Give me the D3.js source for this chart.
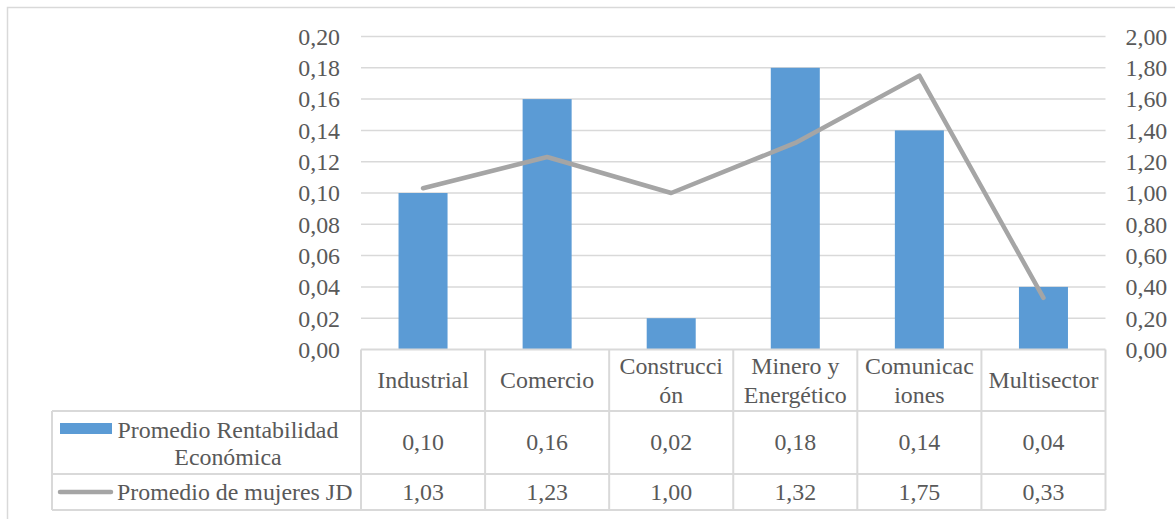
<!DOCTYPE html>
<html>
<head>
<meta charset="utf-8">
<script src="https://cdn.jsdelivr.net/npm/d3@7"></script>
<style>
  html, body { margin: 0; padding: 0; background: #fff; }
  svg { display: block; }
</style>
</head>
<body>
<svg id="chart" width="1175" height="519"></svg>
<script>
// Sectors (header lines as wrapped in the data table)
const categories = ["Industrial", "Comercio", "Construcción", "Minero y Energético", "Comunicaciones", "Multisector"];
const categoryLines = [["Industrial"], ["Comercio"], ["Construcci", "ón"], ["Minero y", "Energético"], ["Comunicac", "iones"], ["Multisector"]];
const rentabilidad = [0.10, 0.16, 0.02, 0.18, 0.14, 0.04];
const mujeresJD = [1.03, 1.23, 1.00, 1.32, 1.75, 0.33];
const leftTicks = [0, 0.02, 0.04, 0.06, 0.08, 0.10, 0.12, 0.14, 0.16, 0.18, 0.20];
const rightTicks = [0, 0.2, 0.4, 0.6, 0.8, 1.0, 1.2, 1.4, 1.6, 1.8, 2.0];
const seriesNames = [["Promedio Rentabilidad", "Económica"], ["Promedio de mujeres JD"]];

// choose an installed serif face (one that differs from both generic sans and mono)
const ctx = document.createElement("canvas").getContext("2d");
const SAMPLE = "Promedio Rentabilidad";
function widthOf(font) { ctx.font = font; return ctx.measureText(SAMPLE).width; }
function pickFont(cands) {
  const mono = widthOf("24px monospace");
  const sans = widthOf("24px sans-serif");
  for (const f of cands) {
    const w = widthOf(`24px "${f}", monospace`);
    if (Math.abs(w - mono) > 0.5 && Math.abs(w - sans) > 0.5) return `"${f}"`;
  }
  return "serif";
}
const FONT = pickFont(["Liberation Serif", "Tinos", "Times New Roman", "Noto Serif", "DejaVu Serif"]);
// keep the legend text about 221px wide at the chosen face
const FS = Math.min(24, 24 * 221 / widthOf(`24px ${FONT}`));

const svg = d3.select("#chart");
const fmt = v => d3.format(".2f")(v).replace(".", ",");
const TXT = "#595959";
const GRID = "#d9d9d9";
const BAR = "#5b9bd5";
const LINE = "#a5a5a5";

function label(sel) {
  return sel.attr("font-family", FONT).attr("font-size", FS).attr("fill", TXT);
}

// chart frame
svg.append("rect").attr("x", 7.5).attr("y", 7.5).attr("width", 1200).attr("height", 600)
  .attr("fill", "none").attr("stroke", GRID).attr("stroke-width", 1.5);

const plot = { left: 361, right: 1105.5, top: 36.5, bottom: 349.5 };

const x = d3.scaleBand().domain(categories).range([plot.left, plot.right]).paddingInner(0).paddingOuter(0);
const yL = d3.scaleLinear().domain([0, 0.2]).range([plot.bottom, plot.top]);
const yR = d3.scaleLinear().domain([0, 2]).range([plot.bottom, plot.top]);

// gridlines
svg.append("g").selectAll("line").data(leftTicks.slice(1)).join("line")
  .attr("x1", plot.left).attr("x2", plot.right)
  .attr("y1", d => yL(d)).attr("y2", d => yL(d))
  .attr("stroke", GRID).attr("stroke-width", 1.5);

// left axis
const leftAxis = d3.axisLeft(yL).tickValues(leftTicks).tickFormat(fmt).tickSize(0).tickPadding(0);
const gL = svg.append("g").attr("transform", `translate(${plot.left - 21},0)`).call(leftAxis);
gL.select(".domain").remove();
label(gL.selectAll("text")).attr("dy", "0.33em");

// right axis
const rightAxis = d3.axisRight(yR).tickValues(rightTicks).tickFormat(fmt).tickSize(0).tickPadding(0);
const gR = svg.append("g").attr("transform", `translate(${plot.right + 20},0)`).call(rightAxis);
gR.select(".domain").remove();
label(gR.selectAll("text")).attr("dy", "0.33em");

// bars
const bw = x.bandwidth() * 0.395;
svg.append("g").selectAll("rect").data(rentabilidad).join("rect")
  .attr("x", (d, i) => x(categories[i]) + x.bandwidth() / 2 - bw / 2)
  .attr("width", bw)
  .attr("y", d => yL(d))
  .attr("height", d => plot.bottom - yL(d))
  .attr("fill", BAR);

// line series on the secondary axis
const line = d3.line()
  .x((d, i) => x(categories[i]) + x.bandwidth() / 2)
  .y(d => yR(d));
svg.append("path").datum(mujeresJD).attr("d", line)
  .attr("fill", "none").attr("stroke", LINE).attr("stroke-width", 4.5)
  .attr("stroke-linejoin", "round").attr("stroke-linecap", "round");

// data table
const rows = { h0: plot.bottom, h1: 411, h2: 474, h3: 510 };
const legendLeft = 52;
const table = svg.append("g").attr("stroke", GRID).attr("stroke-width", 2);
table.append("line").attr("x1", plot.left).attr("x2", plot.right).attr("y1", rows.h0).attr("y2", rows.h0);
[rows.h1, rows.h2, rows.h3].forEach(yy => {
  table.append("line").attr("x1", legendLeft).attr("x2", plot.right).attr("y1", yy).attr("y2", yy);
});
table.append("line").attr("x1", legendLeft).attr("x2", legendLeft).attr("y1", rows.h1).attr("y2", rows.h3);
categories.forEach(c => {
  table.append("line").attr("x1", x(c)).attr("x2", x(c)).attr("y1", rows.h0).attr("y2", rows.h3);
});
table.append("line").attr("x1", plot.right).attr("x2", plot.right).attr("y1", rows.h0).attr("y2", rows.h3);

// header labels
const lh = 29;
categoryLines.forEach((lines, i) => {
  const cx = x(categories[i]) + x.bandwidth() / 2;
  const cy = (rows.h0 + rows.h1) / 2;
  lines.forEach((t, j) => {
    label(svg.append("text")).attr("x", cx).attr("y", cy + (j - (lines.length - 1) / 2) * lh)
      .attr("dy", "0.33em").attr("text-anchor", "middle").text(t);
  });
});

// value rows
[rentabilidad, mujeresJD].forEach((vals, r) => {
  const cy = r === 0 ? (rows.h1 + rows.h2) / 2 : (rows.h2 + rows.h3) / 2;
  vals.forEach((v, i) => {
    label(svg.append("text")).attr("x", x(categories[i]) + x.bandwidth() / 2).attr("y", cy)
      .attr("dy", "0.33em").attr("text-anchor", "middle").text(fmt(v));
  });
});

// legend cells
const textCx = 228;
seriesNames[0].forEach((t, j) => {
  label(svg.append("text")).attr("x", textCx).attr("y", 430 + j * 27.5).attr("dy", "0.33em")
    .attr("text-anchor", "middle").text(t);
});
svg.append("rect").attr("x", 60).attr("y", 423).attr("width", 52).attr("height", 11).attr("fill", BAR);

label(svg.append("text")).attr("x", 117).attr("y", (rows.h2 + rows.h3) / 2).attr("dy", "0.33em")
  .attr("text-anchor", "start").text(seriesNames[1][0]);
svg.append("line").attr("x1", 60).attr("x2", 111).attr("y1", 492).attr("y2", 492)
  .attr("stroke", LINE).attr("stroke-width", 4.5).attr("stroke-linecap", "round");
</script>
</body>
</html>
